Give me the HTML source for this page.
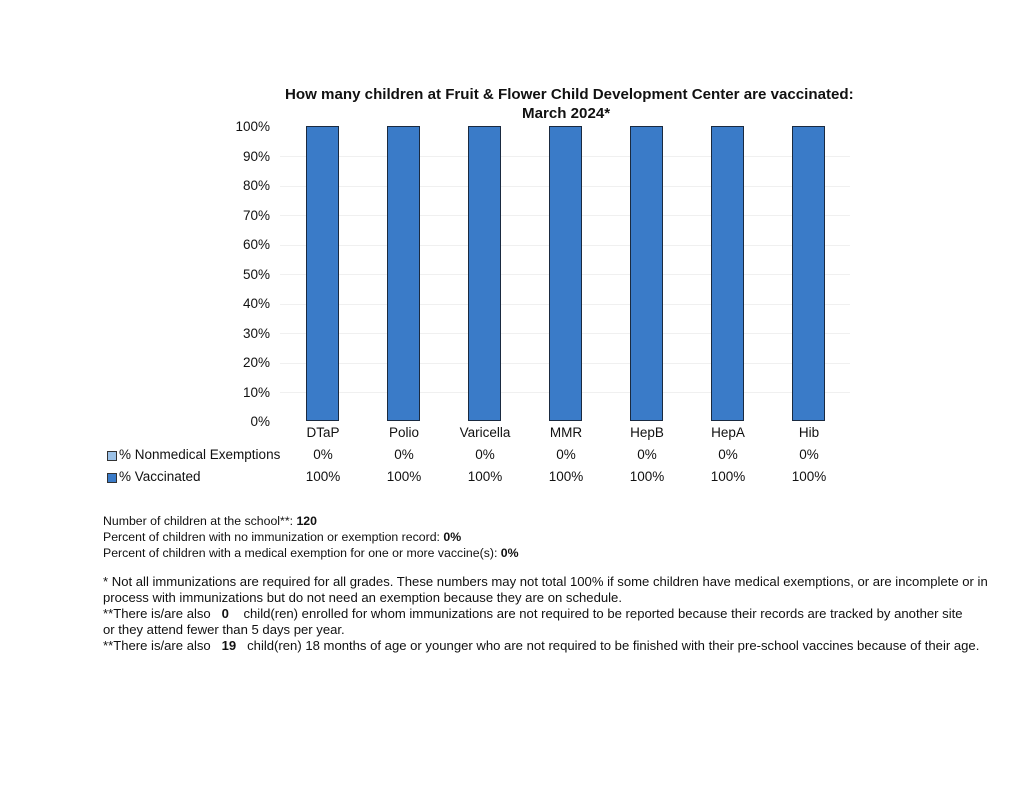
<!DOCTYPE html>
<html><head><meta charset="utf-8"><style>
body{margin:0;width:1024px;height:791px;background:#fff;position:relative;font-family:"Liberation Sans",sans-serif;color:#111;overflow:hidden}
.a{position:absolute;white-space:nowrap}
.yl{position:absolute;width:60px;text-align:right;font-size:13.5px;left:210px}
.bar{position:absolute;width:33px;background:#3a7bc8;border:1px solid #1a2a40;box-sizing:border-box;top:126px;height:295px}
.c{position:absolute;width:80px;text-align:center;font-size:13.5px}
.g{position:absolute;left:280px;width:570px;height:1px;background:#f0f0f0}
.t{font-size:12.3px;left:103px}
.f{font-size:13.1px;left:103px}
</style></head><body>
<div class="a" style="left:285px;top:86px;font-size:15.1px;font-weight:bold">How many children at Fruit &amp; Flower Child Development Center are vaccinated:</div>
<div class="a" style="left:522px;top:105px;font-size:15.1px;font-weight:bold">March 2024*</div>
<div class="yl" style="top:119px">100%</div>
<div class="yl" style="top:149px">90%</div>
<div class="yl" style="top:178px">80%</div>
<div class="yl" style="top:208px">70%</div>
<div class="yl" style="top:237px">60%</div>
<div class="yl" style="top:267px">50%</div>
<div class="yl" style="top:296px">40%</div>
<div class="yl" style="top:326px">30%</div>
<div class="yl" style="top:355px">20%</div>
<div class="yl" style="top:385px">10%</div>
<div class="yl" style="top:414px">0%</div>
<div class="g" style="top:156px"></div><div class="g" style="top:186px"></div><div class="g" style="top:215px"></div><div class="g" style="top:245px"></div><div class="g" style="top:274px"></div><div class="g" style="top:304px"></div><div class="g" style="top:333px"></div><div class="g" style="top:363px"></div><div class="g" style="top:392px"></div>
<div class="bar" style="left:306px"></div>
<div class="bar" style="left:387px"></div>
<div class="bar" style="left:468px"></div>
<div class="bar" style="left:549px"></div>
<div class="bar" style="left:630px"></div>
<div class="bar" style="left:711px"></div>
<div class="bar" style="left:792px"></div>
<div class="c" style="left:283px;top:425px">DTaP</div><div class="c" style="left:364px;top:425px">Polio</div><div class="c" style="left:445px;top:425px">Varicella</div><div class="c" style="left:526px;top:425px">MMR</div><div class="c" style="left:607px;top:425px">HepB</div><div class="c" style="left:688px;top:425px">HepA</div><div class="c" style="left:769px;top:425px">Hib</div>
<div class="c" style="left:283px;top:447px">0%</div><div class="c" style="left:364px;top:447px">0%</div><div class="c" style="left:445px;top:447px">0%</div><div class="c" style="left:526px;top:447px">0%</div><div class="c" style="left:607px;top:447px">0%</div><div class="c" style="left:688px;top:447px">0%</div><div class="c" style="left:769px;top:447px">0%</div>
<div class="c" style="left:283px;top:469px">100%</div><div class="c" style="left:364px;top:469px">100%</div><div class="c" style="left:445px;top:469px">100%</div><div class="c" style="left:526px;top:469px">100%</div><div class="c" style="left:607px;top:469px">100%</div><div class="c" style="left:688px;top:469px">100%</div><div class="c" style="left:769px;top:469px">100%</div>
<div class="a" style="left:107px;top:451px;width:8px;height:8px;background:#9cc2e8;border:1px solid #333"></div>
<div class="a" style="left:119px;top:447px;font-size:13.5px">% Nonmedical Exemptions</div>
<div class="a" style="left:107px;top:473px;width:8px;height:8px;background:#3a7bc8;border:1px solid #333"></div>
<div class="a" style="left:119px;top:469px;font-size:13.5px">% Vaccinated</div>
<div class="a t" style="top:514px">Number of children at the school**: <b>120</b></div>
<div class="a t" style="top:530px">Percent of children with no immunization or exemption record: <b>0%</b></div>
<div class="a t" style="top:546px">Percent of children with a medical exemption for one or more vaccine(s): <b>0%</b></div>
<div class="a f" style="top:574px">* Not all immunizations are required for all grades. These numbers may not total 100% if some children have medical exemptions, or are incomplete or in</div>
<div class="a f" style="top:590px">process with immunizations but do not need an exemption because they are on schedule.</div>
<div class="a f" style="top:606px">**There is/are also &nbsp;&nbsp;<b>0</b>&nbsp;&nbsp;&nbsp; child(ren) enrolled for whom immunizations are not required to be reported because their records are tracked by another site</div>
<div class="a f" style="top:622px">or they attend fewer than 5 days per year.</div>
<div class="a f" style="top:638px">**There is/are also &nbsp;&nbsp;<b>19</b>&nbsp;&nbsp; child(ren) 18 months of age or younger who are not required to be finished with their pre-school vaccines because of their age.</div>
</body></html>
